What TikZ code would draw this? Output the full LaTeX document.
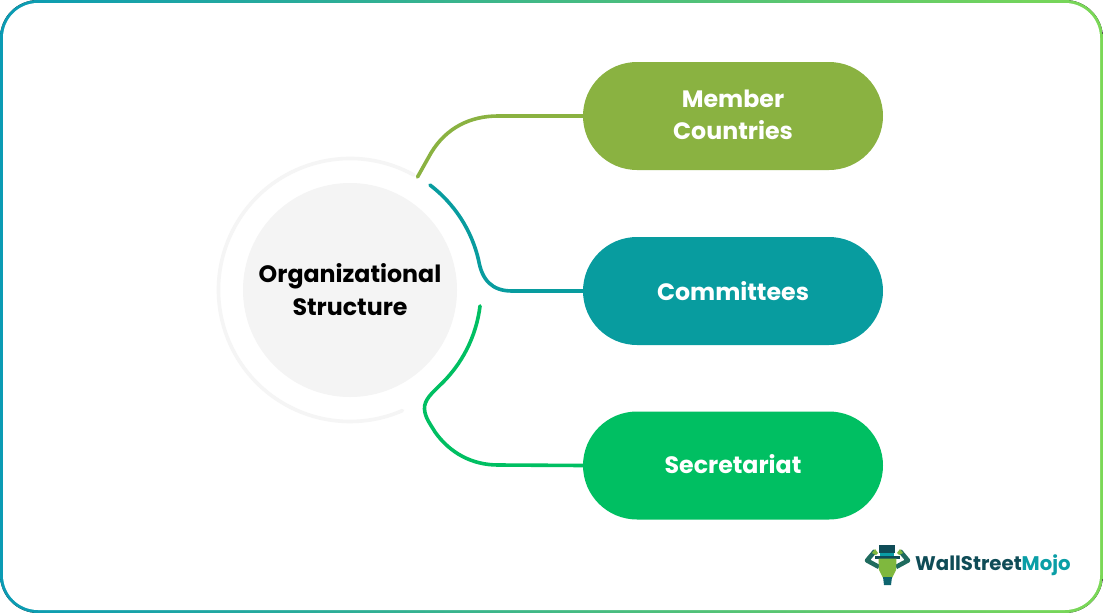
\documentclass[tikz,border=0pt]{standalone}
\usepackage{fontspec}
\setmainfont{Poppins}
\usetikzlibrary{calc,shapes.misc}
\definecolor{cMember}{HTML}{8AB241}
\definecolor{cComm}{HTML}{089C9F}
\definecolor{cSec}{HTML}{00BF62}
\definecolor{cHub}{HTML}{F4F4F4}
\definecolor{cRing}{HTML}{F5F5F5}
\definecolor{cBlue}{HTML}{0A9BB4}
\definecolor{cLime}{HTML}{7BD856}
\definecolor{cDark}{HTML}{0F4C57}
\definecolor{cMojo}{HTML}{0A9EA6}
\definecolor{cHorn}{HTML}{1F6B5E}
\definecolor{cHead}{HTML}{7FB83E}
\tikzset{
  pill/.style={rounded rectangle,draw=none,minimum width=300pt,minimum height=108pt,inner sep=0pt,text=white,align=center,font=\fontsize{23.7}{32}\selectfont\bfseries},
  link/.style={line width=3.6pt,line cap=round,line join=round},
  hub/.style={circle,fill=cHub,minimum size=214pt,inner sep=0pt,align=center,font=\fontsize{23.7}{33}\selectfont\bfseries},
  hornstyle/.style={cHorn,line width=4.5pt,line join=round}
}
\begin{document}
\begin{tikzpicture}[x=1pt,y=-1pt]
\useasboundingbox (0,0) rectangle (1103,613);
% frame
\fill[left color=cBlue,right color=cLime,rounded corners=38pt] (0,0) rectangle (1103,613);
\fill[white,rounded corners=35pt] (3,3) rectangle (1100,610);
% hub
\node[hub] (core) at (350,290) {Organizational\\Structure};
\coordinate (c) at (350,290);
\draw[cRing,line width=3.6pt,line cap=round] ($(c)+(61:131.5pt)$) arc[start angle=61,end angle=293.5,radius=131.5pt];
% pills
\node[pill,fill=cMember] (member) at (733,116) {\raisebox{-1.5pt}[\height][\depth]{\begin{tabular}{@{}c@{}}Member\\Countries\end{tabular}}};
\node[pill,fill=cComm] (committees) at (733,291) {Committees};
\node[pill,fill=cSec] (secretariat) at (733,465.5) {\raisebox{1pt}[\height][\depth]{Secretariat}};
% connectors
\coordinate (mfree) at (417.5,177);
\coordinate (cfree) at ($(c)+(52.7:132pt)$);
\coordinate (sfree) at ($(c)+(-7:131pt)$);
\draw[link,cMember] (mfree) -- (431,153) .. controls (446,128) and (470,116) .. (498,116) -- (member.west);
\draw[link,cComm] (cfree) arc[start angle=52.7,end angle=13,radius=132pt] .. controls (482,280) and (492,291) .. (512,291) -- (committees.west);
\draw[link,cSec] (sfree) arc[start angle=-7,end angle=-47,radius=131pt] .. controls (432,393) and (424,400) .. (424.5,409) .. controls (425,418) and (431,425) .. (435,432) .. controls (450,453) and (472,465) .. (498,465) -- (secretariat.west);
% logo
\draw[hornstyle] (875,551) -- (867,560.5) -- (879,567);
\draw[hornstyle] (900,551) -- (908,560.5) -- (896,567);
\fill[cHead] (875,549) -- (872,553) -- (876,555) -- (878,553) -- cycle;
\fill[cHead] (900,549) -- (903,553) -- (899,555) -- (897,553) -- cycle;
\fill[cDark] (879,545) -- (895,545) -- (895,553) -- (879,553) -- cycle;
\fill[cMojo] (880,553) rectangle (894,556);
\fill[cDark] (875,556) rectangle (900,558.5);
\fill[cHead] (878.5,558.5) -- (896.5,558.5) -- (896,570) -- (892,578) -- (883,578) -- (879,570) -- cycle;
\fill[cDark!70!cMojo] (883,577) -- (892,577) -- (891,585) -- (884,585) -- cycle;
\node[anchor=base west,inner sep=0pt,font=\fontsize{19.7}{21}\selectfont\bfseries,text=cDark] (logo) at (915,570.5) {WallStreet\textcolor{cMojo}{Mojo}};
\end{tikzpicture}
\end{document}
